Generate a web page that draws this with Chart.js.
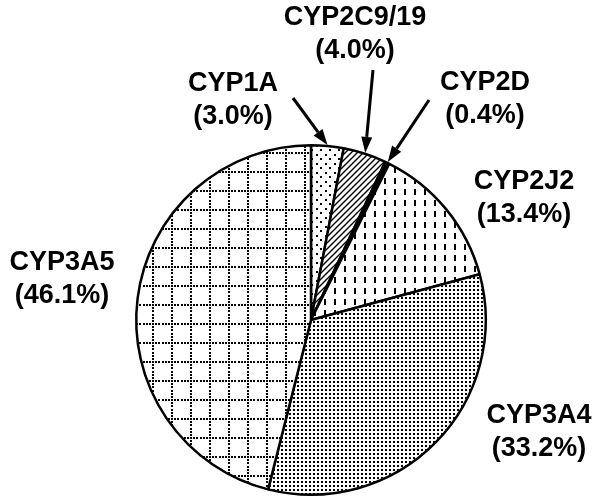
<!DOCTYPE html>
<html>
<head>
<meta charset="utf-8">
<script src="https://cdn.jsdelivr.net/npm/chart.js@4"></script>
<style>
  html, body { margin: 0; padding: 0; background: #fff; }
</style>
</head>
<body>
<canvas id="chart" width="601" height="504"></canvas>
<script>
// slice order runs clockwise from 12 o'clock
const enzymes = ['CYP1A', 'CYP2C9/19', 'CYP2D', 'CYP2J2', 'CYP3A4', 'CYP3A5'];
const shares = [3.0, 4.0, 0.4, 13.4, 33.2, 46.1];

// label anchors, as offsets from the pie centre (first text line)
const labelSpots = [[-78, -236], [44, -302], [174, -237], [213, -138], [228, 96], [-249, -57]];
// arrow tails for the small slices (null = no arrow)
const arrowTails = [[-18, -222], [62, -250], [118, -220], null, null, null];

function makeTile(w, h, paint) {
  const c = document.createElement('canvas');
  c.width = w;
  c.height = h;
  const g = c.getContext('2d');
  g.fillStyle = '#fff';
  g.fillRect(0, 0, w, h);
  g.fillStyle = '#000';
  g.strokeStyle = '#000';
  paint(g, w, h);
  return document.createElement('canvas').getContext('2d').createPattern(c, 'repeat');
}

const sparseDots = makeTile(9, 9, (g) => {
  g.fillRect(1, 1, 2, 2);
  g.fillRect(5, 5, 2, 2);
});

const hatch = makeTile(6, 6, (g, w, h) => {
  g.lineWidth = 1.4;
  g.beginPath();
  g.moveTo(-1, h + 1); g.lineTo(w + 1, -1);
  g.moveTo(-1, 1); g.lineTo(1, -1);
  g.moveTo(w - 1, h + 1); g.lineTo(w + 1, h - 1);
  g.stroke();
});

const dashes = makeTile(10, 11, (g) => {
  g.fillRect(4, 2, 2, 6);
});

const denseDots = makeTile(4, 4, (g) => {
  g.fillRect(1, 1, 2, 2);
});

const dottedGrid = makeTile(19, 19, (g) => {
  for (let i = 0; i < 6; i++) {
    const p = Math.round(i * 19 / 6);
    g.fillRect(p, 0, 2, 2);
    g.fillRect(0, p, 2, 2);
  }
});

const fills = [sparseDots, hatch, '#000', dashes, denseDots, dottedGrid];

const calloutPlugin = {
  id: 'callouts',
  afterDraw(chart) {
    const meta = chart.getDatasetMeta(0);
    const first = meta.data[0];
    const cx = first.x;
    const cy = first.y;
    const r = first.outerRadius;
    const ctx = chart.ctx;
    ctx.save();
    ctx.fillStyle = '#000';
    ctx.strokeStyle = '#000';
    ctx.font = 'bold 27px "Liberation Sans", Arial, sans-serif';
    ctx.textAlign = 'center';
    ctx.textBaseline = 'middle';

    enzymes.forEach((name, i) => {
      const [dx, dy] = labelSpots[i];
      ctx.fillText(name, cx + dx, cy + dy);
      ctx.fillText(`(${shares[i].toFixed(1)}%)`, cx + dx, cy + dy + 33);

      const tail = arrowTails[i];
      if (!tail) return;
      const el = meta.data[i];
      const mid = (el.startAngle + el.endAngle) / 2;
      const tx = cx + (r + 1) * Math.cos(mid);
      const ty = cy + (r + 1) * Math.sin(mid);
      const sx = cx + tail[0];
      const sy = cy + tail[1];
      const ang = Math.atan2(ty - sy, tx - sx);
      const headLen = 16;
      const headHalf = 5.5;
      const bx = tx - headLen * Math.cos(ang);
      const by = ty - headLen * Math.sin(ang);

      ctx.lineWidth = 3;
      ctx.beginPath();
      ctx.moveTo(sx, sy);
      ctx.lineTo(bx, by);
      ctx.stroke();

      ctx.beginPath();
      ctx.moveTo(tx, ty);
      ctx.lineTo(bx + headHalf * Math.sin(ang), by - headHalf * Math.cos(ang));
      ctx.lineTo(bx - headHalf * Math.sin(ang), by + headHalf * Math.cos(ang));
      ctx.closePath();
      ctx.fill();
    });
    ctx.restore();
  },
};

new Chart(document.getElementById('chart'), {
  type: 'pie',
  data: {
    labels: enzymes,
    datasets: [{
      data: shares,
      backgroundColor: fills,
      borderColor: '#000',
      borderWidth: 2.5,
    }],
  },
  options: {
    responsive: false,
    animation: false,
    layout: { padding: { left: 135, right: 114, top: 144, bottom: 8 } },
    plugins: {
      legend: { display: false },
      tooltip: { enabled: false },
    },
  },
  plugins: [calloutPlugin],
});
</script>
</body>
</html>
